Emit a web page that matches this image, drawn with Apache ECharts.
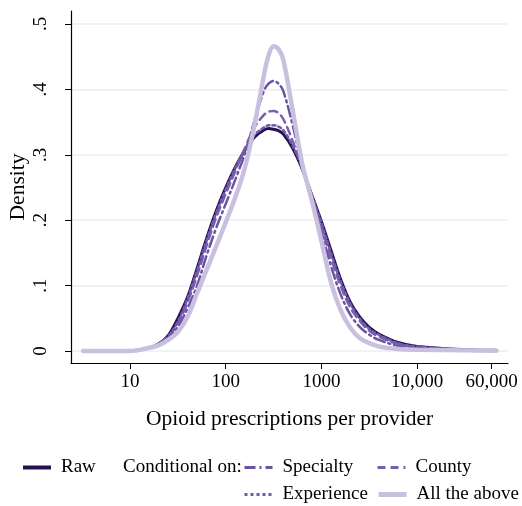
<!DOCTYPE html>
<html>
<head>
<meta charset="utf-8">
<script src="https://cdn.jsdelivr.net/npm/echarts@6/dist/echarts.min.js"></script>
<style>
  html, body { margin: 0; padding: 0; background: #fff; }
  #chart { width: 522px; height: 506px; }
</style>
</head>
<body>
<div id="chart"></div>
<script>
// Kernel density of opioid prescriptions per provider, evaluated on a log10 grid
const log10Prescriptions = [0.51, 0.8, 1.0, 1.2, 1.3, 1.4, 1.5, 1.6, 1.7, 1.8, 1.9, 2.0, 2.1, 2.2, 2.3, 2.4, 2.45, 2.5, 2.55, 2.6, 2.7, 2.8, 2.9, 3.0, 3.1, 3.2, 3.3, 3.4, 3.5, 3.6, 3.8, 4.0, 4.5, 4.83];

const rawDensity        = [0, 0, 0.000, 0.005, 0.011, 0.024, 0.050, 0.082, 0.126, 0.172, 0.214, 0.250, 0.281, 0.307, 0.327, 0.338, 0.340, 0.339, 0.337, 0.332, 0.310, 0.278, 0.238, 0.198, 0.154, 0.110, 0.075, 0.052, 0.036, 0.026, 0.013, 0.007, 0.002, 0.001];
const specialtyDensity  = [0, 0, 0.000, 0.005, 0.010, 0.020, 0.037, 0.065, 0.100, 0.146, 0.188, 0.225, 0.262, 0.302, 0.352, 0.398, 0.409, 0.413, 0.409, 0.398, 0.345, 0.282, 0.230, 0.182, 0.130, 0.087, 0.056, 0.037, 0.025, 0.017, 0.008, 0.004, 0.0015, 0.0008];
const countyDensity     = [0, 0, 0.000, 0.005, 0.011, 0.022, 0.042, 0.074, 0.115, 0.161, 0.204, 0.240, 0.275, 0.310, 0.342, 0.361, 0.366, 0.367, 0.364, 0.355, 0.321, 0.278, 0.234, 0.190, 0.142, 0.100, 0.067, 0.046, 0.031, 0.022, 0.011, 0.006, 0.002, 0.001];
const experienceDensity = [0, 0, 0.000, 0.005, 0.011, 0.023, 0.045, 0.080, 0.123, 0.169, 0.211, 0.247, 0.280, 0.308, 0.330, 0.342, 0.345, 0.345, 0.343, 0.338, 0.314, 0.280, 0.238, 0.196, 0.150, 0.107, 0.073, 0.050, 0.034, 0.025, 0.012, 0.007, 0.002, 0.001];
const allAboveDensity   = [0, 0, 0.000, 0.005, 0.009, 0.017, 0.029, 0.052, 0.088, 0.124, 0.160, 0.197, 0.235, 0.280, 0.345, 0.422, 0.453, 0.466, 0.462, 0.446, 0.368, 0.286, 0.230, 0.168, 0.105, 0.063, 0.036, 0.020, 0.012, 0.007, 0.003, 0.002, 0.001, 0.0005];

const xTickValues = [10, 100, 1000, 10000, 60000];
const xTickLabels = ['10', '100', '1000', '10,000', '60,000'];
const yTickValues = [0, 0.1, 0.2, 0.3, 0.4, 0.5];
const yTickLabels = ['0', '.1', '.2', '.3', '.4', '.5'];

const seriesNames = ['Raw', 'Specialty', 'County', 'Experience', 'All the above'];
const seriesValues = [rawDensity, specialtyDensity, countyDensity, experienceDensity, allAboveDensity];

const FONT = 'Liberation Serif';
const styles = [
  { color: '#27114f', width: 3, legendWidth: 4, type: 'solid' },
  { color: '#6b53a3', width: 2.5, legendWidth: 3, type: [11, 4, 2, 4] },
  { color: '#7661ab', width: 2.5, legendWidth: 3, type: [8, 5] },
  { color: '#7259ae', width: 2.5, legendWidth: 3, type: [3, 3] },
  { color: '#c9c0df', width: 4.5, legendWidth: 5, type: 'solid' }
];

const xPos = xTickValues.map(v => Math.log10(v));

const series = seriesNames.map((name, i) => ({
  name: name,
  type: 'line',
  smooth: 0.35,
  symbol: 'none',
  animation: false,
  z: 2 + i,
  lineStyle: { color: styles[i].color, width: styles[i].width, type: styles[i].type, cap: 'round' },
  itemStyle: { color: styles[i].color },
  data: log10Prescriptions.map((x, k) => [x, seriesValues[i][k]])
}));

// one legend entry per slot so the two-column key lines up
const legendSlots = [
  { name: 'Raw', left: 21, top: 458 },
  { name: 'Specialty', left: 243, top: 458 },
  { name: 'County', left: 376, top: 458 },
  { name: 'Experience', left: 243, top: 485 },
  { name: 'All the above', left: 376, top: 485 }
];
const legends = legendSlots.map(s => {
  const st = styles[seriesNames.indexOf(s.name)];
  return {
    data: [s.name],
    left: s.left,
    top: s.top,
    padding: 0,
    itemWidth: 28,
    itemHeight: 18,
    selectedMode: false,
    itemStyle: { opacity: 0, borderWidth: 0 },
    lineStyle: { width: st.legendWidth, type: st.type, color: st.color, cap: 'butt' },
    textStyle: { fontFamily: FONT, fontSize: 19, color: '#000', padding: [0, 0, 0, 5] }
  };
});

const option = {
  backgroundColor: '#fff',
  animation: false,
  grid: { left: 71, right: 14, top: 11, bottom: 143, containLabel: false, outerBoundsMode: 'none' },
  xAxis: {
    type: 'value',
    min: 0.383,
    max: 4.95,
    name: 'Opioid prescriptions per provider',
    nameLocation: 'middle',
    nameGap: 45,
    nameMoveOverlap: false,
    nameTextStyle: { fontFamily: FONT, fontSize: 21.5, color: '#000' },
    axisLine: { show: true, onZero: false, lineStyle: { color: '#000', width: 1.2 } },
    axisTick: { show: true, length: 6, customValues: xPos, lineStyle: { color: '#000', width: 1 } },
    axisLabel: {
      customValues: xPos,
      margin: 10,
      hideOverlap: false,
      fontFamily: FONT, fontSize: 19, color: '#000',
      formatter: v => {
        const k = xPos.findIndex(p => Math.abs(p - v) < 1e-6);
        return k >= 0 ? xTickLabels[k] : '';
      }
    },
    splitLine: { show: false }
  },
  yAxis: {
    type: 'value',
    min: -0.0183,
    max: 0.5198,
    name: 'Density',
    nameLocation: 'middle',
    nameRotate: 90,
    nameGap: 42,
    nameMoveOverlap: false,
    nameTextStyle: { fontFamily: FONT, fontSize: 21.5, color: '#000' },
    axisLine: { show: true, lineStyle: { color: '#000', width: 1.2 } },
    axisTick: { show: true, length: 6, customValues: yTickValues, lineStyle: { color: '#000', width: 1 } },
    axisLabel: {
      customValues: yTickValues,
      rotate: 90,
      margin: 20,
      fontFamily: FONT, fontSize: 19, color: '#000',
      formatter: v => {
        const k = yTickValues.findIndex(p => Math.abs(p - v) < 1e-6);
        return k >= 0 ? yTickLabels[k] : '';
      }
    },
    splitLine: { show: true, lineStyle: { color: '#e9eff1', width: 1.5 } }
  },
  legend: legends,
  graphic: [
    {
      type: 'text',
      left: 123,
      top: 458,
      style: { text: 'Conditional on:', fontFamily: FONT, fontSize: 19, fill: '#000' }
    }
  ],
  series: series
};

const chart = echarts.init(document.getElementById('chart'), null, { renderer: 'canvas' });
chart.setOption(option);
</script>
</body>
</html>
